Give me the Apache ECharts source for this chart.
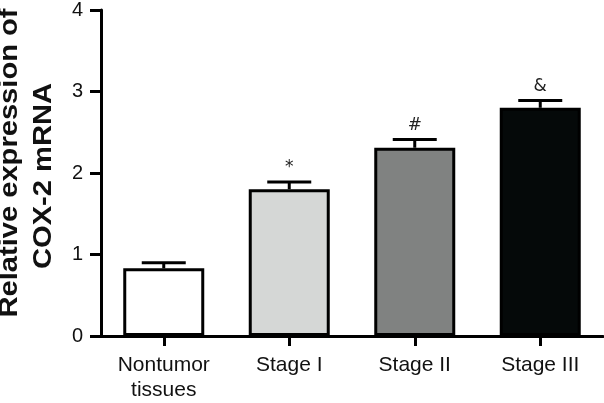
<!DOCTYPE html>
<html>
<head>
<meta charset="utf-8">
<script src="https://cdn.jsdelivr.net/npm/echarts@6/dist/echarts.min.js"></script>
<style>
html,body{margin:0;padding:0;background:#fff;}
#main{width:604px;height:403px;}
</style>
</head>
<body>
<div id="main"></div>
<script>
// Data
const categories = ['Nontumor\ntissues', 'Stage I', 'Stage II', 'Stage III'];
const values = [0.83, 1.80, 2.31, 2.80];
const errors = [0.07, 0.09, 0.10, 0.09];
const annotations = ['', '*', '#', '&'];
const barColors = ['#ffffff', '#d5d7d6', '#808281', '#050909'];
const yTicks = [0, 1, 2, 3, 4];
const yTitleLines = ['Relative expression of', 'COX-2 mRNA'];

const chart = echarts.init(document.getElementById('main'));
const FONT = 'Arial, "Liberation Sans", Helvetica, sans-serif';

chart.setOption({
  animation: false,
  backgroundColor: '#fff',
  grid: { left: 101, right: 1, top: 6, bottom: 63, containLabel: false },
  xAxis: {
    type: 'category',
    data: categories,
    boundaryGap: true,
    axisLine: { show: true, lineStyle: { color: '#000', width: 3 } },
    axisTick: { show: true, alignWithLabel: true, length: 10, lineStyle: { color: '#000', width: 3 } },
    axisLabel: { color: '#111', fontFamily: FONT, fontSize: 21, lineHeight: 25, margin: 17 },
    splitLine: { show: false }
  },
  yAxis: {
    type: 'value',
    min: yTicks[0],
    max: yTicks[yTicks.length - 1],
    interval: 1,
    axisLine: { show: true, lineStyle: { color: '#000', width: 3 } },
    axisTick: { show: true, length: 11, lineStyle: { color: '#000', width: 3 } },
    axisLabel: { color: '#111', fontFamily: FONT, fontSize: 20, margin: 18 },
    splitLine: { show: false }
  },
  graphic: [
    {
      type: 'text', x: 10, y: 163, rotation: Math.PI / 2, scaleX: 1.12,
      style: { text: yTitleLines[0], font: 'bold 26px ' + FONT, fill: '#111', textAlign: 'center', textVerticalAlign: 'middle' }
    },
    {
      type: 'text', x: 44, y: 176, rotation: Math.PI / 2, scaleX: 1.12,
      style: { text: yTitleLines[1], font: 'bold 26px ' + FONT, fill: '#111', textAlign: 'center', textVerticalAlign: 'middle' }
    }
  ],
  series: [
    {
      type: 'bar',
      data: values.map((v, i) => ({ value: v, itemStyle: { color: barColors[i] } })),
      barWidth: 81,
      itemStyle: { borderColor: '#000', borderWidth: 3 },
      z: 2
    },
    {
      type: 'custom',
      data: values.map((v, i) => [i, v, errors[i]]),
      z: 3,
      renderItem: function (params, api) {
        const idx = api.value(0);
        const base = api.coord([idx, api.value(1)]);
        const top = api.coord([idx, api.value(1) + api.value(2)]);
        const half = 22;
        const children = [
          { type: 'line', shape: { x1: base[0], y1: base[1], x2: top[0], y2: top[1] }, style: { stroke: '#000', lineWidth: 3 } },
          { type: 'line', shape: { x1: top[0] - half, y1: top[1], x2: top[0] + half, y2: top[1] }, style: { stroke: '#000', lineWidth: 3 } }
        ];
        const ann = annotations[params.dataIndex];
        if (ann) {
          children.push({
            type: 'text', x: top[0], y: top[1] - 14,
            style: { text: ann, font: '17px "DejaVu Sans", Arial, sans-serif', fill: '#222', textAlign: 'center', textVerticalAlign: 'middle' }
          });
        }
        return { type: 'group', children: children };
      }
    }
  ]
});
</script>
</body>
</html>
